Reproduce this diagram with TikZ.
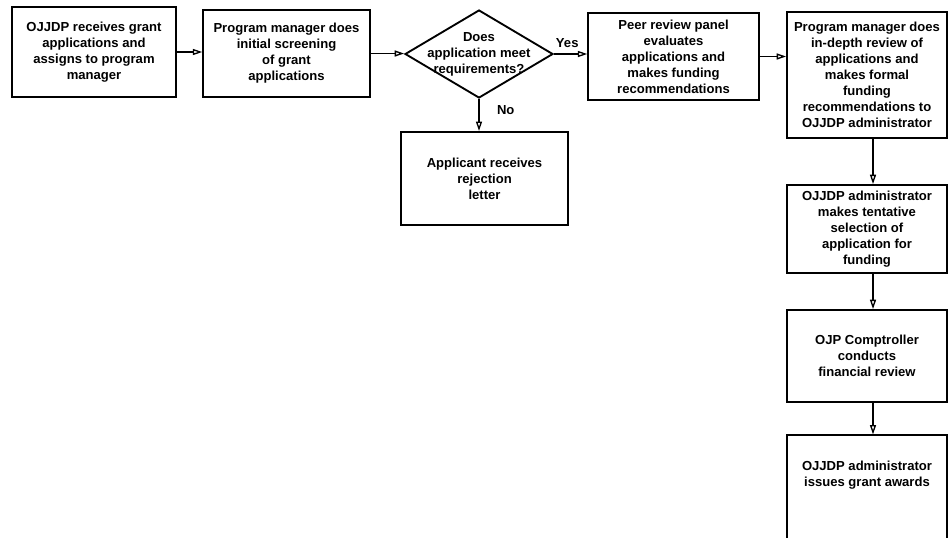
\documentclass[tikz,border=0pt]{standalone}
\usepackage{fontspec}
\setmainfont{Liberation Sans}
\usetikzlibrary{shapes.geometric,arrows.meta}

\begin{document}
\begin{tikzpicture}[x=0.75pt,y=-0.75pt,>={Triangle[open,length=7pt,width=4.5pt]}]
    \tikzstyle{box}=[draw, line width=1.4pt, align=center, inner sep=2pt, font=\fontsize{9.8}{12}\selectfont\bfseries]
    \tikzstyle{decision}=[draw, diamond, line width=1.4pt, inner sep=0pt]
    \tikzstyle{flow}=[->, line width=1pt]
    \tikzstyle{lbl}=[font=\fontsize{9.8}{12}\selectfont\bfseries, inner sep=1pt]

    \useasboundingbox (0,0) rectangle (949,537);

    \node[box, minimum width=123pt, minimum height=67.5pt] (receive) at (94,52)
    {OJJDP receives grant\\applications and\\assigns to program\\manager};

    \node[box, minimum width=125pt, minimum height=65pt] (screen) at (286.5,53.5)
    {Program manager does\\initial screening\\of grant\\applications};

    \node[decision, minimum width=111pt, minimum height=66pt] (meet) at (479,54) {};
    \node[lbl, align=center] (meettext) at (meet)
    {Does\\application meet\\requirements?};

    \node[box, minimum width=128pt, minimum height=65pt] (panel) at (673.5,56.5)
    {Peer review panel\\evaluates\\applications and\\makes funding\\recommendations};

    \node[box, minimum width=120pt, minimum height=94.5pt] (indepth) at (867,75)
    {Program manager does\\in-depth review of\\applications and\\makes formal\\funding\\recommendations to\\OJJDP administrator};

    \node[box, minimum width=125pt, minimum height=70pt] (reject) at (484.5,178.5)
    {Applicant receives\\rejection\\letter};

    \node[box, minimum width=120pt, minimum height=66pt] (select) at (867,229)
    {OJJDP administrator\\makes tentative\\selection of\\application for\\funding};

    \node[box, minimum width=120pt, minimum height=69pt] (comptroller) at (867,356)
    {OJP Comptroller\\conducts\\financial review};

    \node[box, minimum width=120pt, minimum height=79pt] (awards) at (867,488)
    {OJJDP administrator\\issues grant awards\\[10pt]};

    \draw[flow] (receive.east) -- (receive.east -| screen.west);
    \draw[flow] (screen.east) -- (screen.east -| meet.west);
    \draw[flow] (meet.east) -- (meet.east -| panel.west)
        node[lbl, pos=0.4, above=3pt] (yes) {Yes};
    \draw[flow] (meet.south) -- (meet.south |- reject.north)
        node[lbl, pos=0.35, right=12pt] (no) {No};
    \draw[flow] (panel.east) -- (panel.east -| indepth.west);
    \draw[flow] ([xshift=4.5pt]indepth.south) -- ([xshift=4.5pt]select.north);
    \draw[flow] ([xshift=4.5pt]select.south) -- ([xshift=4.5pt]comptroller.north);
    \draw[flow] ([xshift=4.5pt]comptroller.south) -- ([xshift=4.5pt]awards.north);
  \end{tikzpicture}
\end{document}
